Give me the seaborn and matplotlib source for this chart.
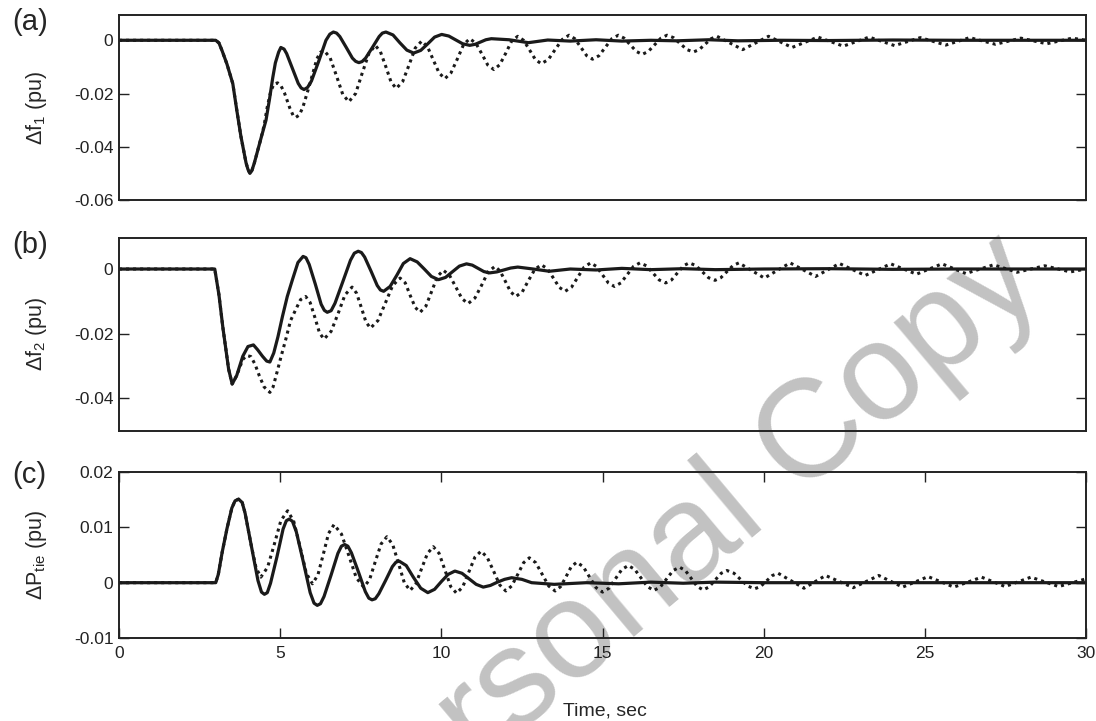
import matplotlib
matplotlib.use("Agg")
import matplotlib.pyplot as plt
import seaborn as sns
import pandas as pd

# (time s, value pu)
a_solid = [(0, 0), (3.0, 0), (3.1, -0.001), (3.2, -0.004), (3.35, -0.009), (3.53, -0.0163),
           (3.65, -0.026), (3.78, -0.036), (3.94, -0.046), (4.0, -0.0485), (4.06, -0.050),
           (4.12, -0.049), (4.2, -0.046), (4.4, -0.037), (4.56, -0.030), (4.67, -0.022),
           (4.77, -0.014), (4.85, -0.0085), (4.95, -0.0045), (5.02, -0.0027), (5.12, -0.0033),
           (5.2, -0.005), (5.38, -0.0106), (5.56, -0.0162), (5.65, -0.0179), (5.74, -0.0185),
           (5.85, -0.0177), (5.97, -0.0153), (6.2, -0.0077), (6.42, 0.0), (6.54, 0.0023),
           (6.65, 0.0031), (6.75, 0.0027), (6.85, 0.0014), (7.05, -0.0027), (7.24, -0.0067),
           (7.34, -0.0079), (7.44, -0.0084), (7.54, -0.008), (7.65, -0.0067), (7.86, -0.0027),
           (8.07, 0.0014), (8.17, 0.0027), (8.28, 0.0031), (8.5, 0.002), (8.71, -0.0009),
           (8.93, -0.0037), (9.14, -0.0048), (9.36, -0.0038), (9.58, -0.0013), (9.79, 0.0012),
           (10.01, 0.0022), (10.23, 0.0016), (10.66, -0.0013), (10.88, -0.0019), (11.05, -0.0015),
           (11.38, 0.0002), (11.55, 0.0006), (12.1, 0.0002), (12.7, -0.0009), (13.3, 0.0001),
           (14.0, -0.0003), (14.8, 0.0002), (15.6, -0.0003), (16.5, 0.0), (17.3, -0.0002),
           (18.3, 0.0002), (19.2, -0.0002), (20.5, 0.0), (22.0, -0.0001), (24.0, 0.0001),
           (26.0, 0.0), (28.0, 0.0), (30.0, 0.0)]
a_dotted = [(0, 0), (3.0, 0), (3.1, -0.001), (3.2, -0.004), (3.35, -0.009), (3.53, -0.0163),
            (3.65, -0.026), (3.78, -0.036), (3.94, -0.046), (4.0, -0.0485), (4.06, -0.050),
            (4.12, -0.049), (4.2, -0.046), (4.4, -0.037), (4.5, -0.032), (4.6, -0.025),
            (4.7, -0.0195), (4.8, -0.0165), (4.92, -0.016), (5.02, -0.017), (5.13, -0.0197),
            (5.3, -0.0255), (5.4, -0.0282), (5.48, -0.029), (5.59, -0.0281), (5.7, -0.0253),
            (5.92, -0.0164), (6.14, -0.0069), (6.25, -0.0045), (6.36, -0.0038), (6.55, -0.0066),
            (6.75, -0.0135), (6.94, -0.0203), (7.13, -0.0231), (7.34, -0.02), (7.54, -0.0125),
            (7.75, -0.005), (7.95, -0.0019), (8.11, -0.0043), (8.28, -0.01), (8.44, -0.0157),
            (8.6, -0.0181), (8.8, -0.0155), (9.0, -0.0092), (9.19, -0.0029), (9.39, -0.0003),
            (9.57, -0.0024), (9.75, -0.0074), (9.93, -0.0123), (10.11, -0.0144), (10.3, -0.0122),
            (10.5, -0.0069), (10.69, -0.0016), (10.88, 0.0006), (11.07, -0.0011), (11.26, -0.0052),
            (11.44, -0.0093), (11.63, -0.011), (11.81, -0.0092), (12.0, -0.0048), (12.18, -0.0003),
            (12.37, 0.0015), (12.55, 0.0), (12.74, -0.0037), (12.92, -0.0073), (13.1, -0.0088),
            (13.32, -0.0072), (13.53, -0.0035), (13.75, 0.0003), (13.96, 0.0019), (14.14, 0.0006),
            (14.51, -0.0058), (14.69, -0.0071), (14.89, -0.0058), (15.29, 0.0006), (15.49, 0.0019),
            (15.67, 0.0008), (16.05, -0.0042), (16.23, -0.0053), (16.42, -0.0042), (16.81, 0.0008),
            (17.0, 0.0019), (17.2, 0.001), (17.62, -0.0035), (17.82, -0.0044), (18.0, -0.0035),
            (18.37, 0.0006), (18.55, 0.0015), (19.35, -0.0035), (20.15, 0.0015), (20.88, -0.0027),
            (21.68, 0.0012), (22.47, -0.0022), (23.27, 0.0012), (24.06, -0.002), (24.86, 0.001),
            (25.65, -0.0018), (26.39, 0.001), (27.19, -0.0015), (27.98, 0.0008), (28.78, -0.0013),
            (29.57, 0.0008), (30.0, 0.0)]

b_solid = [(0, 0), (2.97, 0), (3.1, -0.008), (3.22, -0.018), (3.4, -0.031), (3.51, -0.0356),
           (3.65, -0.033), (3.84, -0.027), (4.0, -0.024), (4.17, -0.0235), (4.3, -0.025),
           (4.45, -0.027), (4.58, -0.0285), (4.68, -0.0288), (4.8, -0.026), (4.93, -0.021),
           (5.07, -0.0147), (5.22, -0.0085), (5.38, -0.0033), (5.55, 0.002), (5.71, 0.0039),
           (5.8, 0.0035), (5.9, 0.0014), (6.09, -0.0047), (6.27, -0.0109), (6.37, -0.0128),
           (6.46, -0.0134), (6.58, -0.0129), (6.7, -0.0106), (6.94, -0.004), (7.18, 0.0027),
           (7.3, 0.0049), (7.42, 0.0055), (7.52, 0.0051), (7.62, 0.0037), (7.82, -0.0007),
           (8.01, -0.0051), (8.11, -0.0065), (8.21, -0.0069), (8.41, -0.0054), (8.62, -0.0019),
           (8.82, 0.0017), (9.03, 0.0032), (9.25, 0.0022), (9.47, 0.0), (9.69, -0.0023),
           (9.91, -0.0033), (10.13, -0.0026), (10.35, -0.0008), (10.56, 0.0009), (10.78, 0.0016),
           (10.96, 0.0012), (11.32, -0.0008), (11.5, -0.0012), (11.72, -0.0009), (12.15, 0.0003),
           (12.37, 0.0006), (12.85, 0.0), (13.35, -0.0007), (14.0, 0.0), (14.8, -0.0003),
           (15.6, 0.0002), (16.5, -0.0002), (17.5, 0.0001), (18.5, -0.0002), (20.0, 0.0),
           (22.0, 0.0001), (24.0, -0.0001), (26.0, 0.0), (30.0, 0.0)]
b_dotted = [(0, 0), (2.97, 0), (3.1, -0.008), (3.22, -0.018), (3.4, -0.031), (3.51, -0.0356),
            (3.65, -0.033), (3.84, -0.028), (3.96, -0.0268), (4.09, -0.0271), (4.22, -0.0295),
            (4.35, -0.033), (4.5, -0.0365), (4.68, -0.0382), (4.78, -0.0365), (4.9, -0.032),
            (5.03, -0.027), (5.17, -0.0219), (5.32, -0.016), (5.48, -0.0126), (5.63, -0.0095),
            (5.79, -0.0085), (5.93, -0.0104), (6.08, -0.0151), (6.22, -0.0198), (6.36, -0.0217),
            (6.58, -0.0193), (6.8, -0.0137), (7.01, -0.008), (7.23, -0.0056), (7.37, -0.0075),
            (7.52, -0.012), (7.66, -0.0164), (7.8, -0.0183), (8.03, -0.016), (8.26, -0.0106),
            (8.49, -0.0051), (8.72, -0.0028), (8.88, -0.0043), (9.03, -0.0081), (9.19, -0.0119),
            (9.34, -0.0134), (9.52, -0.0115), (9.7, -0.0069), (9.88, -0.0023), (10.06, -0.0004),
            (10.25, -0.0019), (10.45, -0.0056), (10.64, -0.0092), (10.83, -0.0107), (11.04, -0.009),
            (11.25, -0.005), (11.45, -0.0009), (11.66, 0.0008), (11.82, -0.0006), (11.99, -0.0039),
            (12.15, -0.0071), (12.31, -0.0085), (12.51, -0.0071), (12.7, -0.0036), (12.9, -0.0001),
            (13.1, 0.0013), (13.29, 0.0001), (13.66, -0.0057), (13.84, -0.0069), (14.04, -0.0056),
            (14.43, 0.0006), (14.63, 0.0019), (14.81, 0.0008), (15.18, -0.0043), (15.37, -0.0054),
            (15.57, -0.0043), (15.96, 0.0008), (16.16, 0.0019), (16.36, 0.001), (16.76, -0.0034),
            (16.96, -0.0043), (17.14, -0.0034), (17.51, 0.001), (17.69, 0.0019), (17.89, 0.0011),
            (18.29, -0.0027), (18.49, -0.0035), (18.67, -0.0027), (19.05, 0.0011), (19.23, 0.0019),
            (20.02, -0.0028), (20.82, 0.0019), (21.61, -0.0023), (22.35, 0.0017), (23.15, -0.002),
            (23.94, 0.0016), (24.74, -0.0016), (25.53, 0.0016), (26.27, -0.0014), (27.13, 0.0013),
            (27.86, -0.001), (28.72, 0.001), (29.51, -0.0009), (30.0, 0.0)]

c_solid = [(0, 0), (3.0, 0), (3.08, 0.0015), (3.2, 0.0055), (3.35, 0.0098), (3.5, 0.0135),
           (3.6, 0.0148), (3.71, 0.0151), (3.82, 0.0145), (3.91, 0.0126), (4.11, 0.0065),
           (4.31, 0.0004), (4.42, -0.0017), (4.51, -0.0021), (4.6, -0.0018), (4.7, -0.0001),
           (4.9, 0.0047), (5.09, 0.0097), (5.19, 0.0112), (5.28, 0.0115), (5.38, 0.0111),
           (5.5, 0.0092), (5.72, 0.0037), (5.93, -0.0018), (6.05, -0.0037), (6.15, -0.0041),
           (6.25, -0.0038), (6.36, -0.0025), (6.58, 0.0014), (6.79, 0.0053), (6.9, 0.0066),
           (7.0, 0.0069), (7.1, 0.0066), (7.21, 0.0054), (7.43, 0.0019), (7.64, -0.0016),
           (7.75, -0.0028), (7.85, -0.0031), (7.95, -0.0029), (8.06, -0.002), (8.27, 0.0004),
           (8.48, 0.0029), (8.59, 0.0037), (8.69, 0.0039), (8.91, 0.0031), (9.13, 0.001),
           (9.36, -0.001), (9.58, -0.0018), (9.79, -0.0012), (10.0, 0.0002), (10.21, 0.0015),
           (10.42, 0.0021), (10.64, 0.0017), (10.86, 0.0007), (11.08, -0.0003), (11.3, -0.0008),
           (11.52, -0.0005), (11.74, 0.0001), (11.96, 0.0006), (12.18, 0.0009), (12.5, 0.0006),
           (12.8, 0.0), (13.5, -0.0003), (14.5, 0.0), (15.5, -0.0002), (16.5, 0.0001),
           (17.5, -0.0001), (18.5, 0.0001), (20.0, 0.0), (30.0, 0.0)]
c_dotted = [(0, 0), (3.0, 0), (3.08, 0.0015), (3.2, 0.0055), (3.35, 0.0098), (3.5, 0.0135),
            (3.6, 0.0148), (3.71, 0.0151), (3.82, 0.0145), (3.91, 0.0126), (4.11, 0.0065),
            (4.25, 0.0027), (4.4, 0.001), (4.61, 0.0028), (4.82, 0.007), (5.02, 0.0112),
            (5.23, 0.013), (5.42, 0.0111), (5.62, 0.0064), (5.81, 0.0017), (6.0, -0.0002),
            (6.17, 0.0014), (6.34, 0.0052), (6.5, 0.0089), (6.67, 0.0105), (6.9, 0.0088),
            (7.13, 0.0049), (7.36, 0.0009), (7.59, -0.0008), (7.77, 0.0005), (7.95, 0.0038),
            (8.13, 0.007), (8.31, 0.0083), (8.49, 0.0069), (8.67, 0.0035), (8.85, 0.0),
            (9.03, -0.0014), (9.21, -0.0002), (9.39, 0.0026), (9.57, 0.0053), (9.75, 0.0065),
            (9.93, 0.0053), (10.11, 0.0023), (10.29, -0.0007), (10.47, -0.0019), (10.66, -0.0008),
            (10.85, 0.0019), (11.04, 0.0046), (11.23, 0.0057), (11.42, 0.0046), (11.62, 0.0021),
            (11.81, -0.0004), (12.0, -0.0015), (12.18, -0.0006), (12.37, 0.0015), (12.55, 0.0036),
            (12.73, 0.0045), (12.93, 0.0036), (13.13, 0.0015), (13.33, -0.0006), (13.53, -0.0015),
            (13.7, -0.0007), (13.87, 0.0011), (14.03, 0.0029), (14.2, 0.0037), (14.4, 0.0029),
            (14.6, 0.001), (14.8, -0.0009), (15.0, -0.0017), (15.2, -0.001), (15.4, 0.0007),
            (15.6, 0.0024), (15.8, 0.0031), (16.0, 0.0024), (16.39, -0.0007), (16.59, -0.0014),
            (16.79, -0.0008), (17.19, 0.0022), (17.39, 0.0028), (17.57, 0.0022), (17.94, -0.0007),
            (18.12, -0.0013), (18.3, -0.0008), (18.68, 0.0017), (18.86, 0.0022), (19.08, 0.0017),
            (19.5, -0.0006), (19.72, -0.0011), (19.9, -0.0007), (20.27, 0.0013), (20.45, 0.0017),
            (21.25, -0.001), (21.92, 0.0013), (22.78, -0.0009), (23.57, 0.0013), (24.31, -0.0008),
            (25.1, 0.0011), (25.9, -0.0008), (26.76, 0.001), (27.49, -0.0007), (28.29, 0.001),
            (29.15, -0.0007), (30.0, 0.0007)]

panel_tags = ["(a)", "(b)", "(c)"]
ylabels = ["Δf$_1$ (pu)", "Δf$_2$ (pu)", "ΔP$_{tie}$ (pu)"]
yticks_a = [-0.06, -0.04, -0.02, 0]
yticks_b = [-0.04, -0.02, 0]
yticks_c = [-0.01, 0, 0.01, 0.02]
xticks = [0, 5, 10, 15, 20, 25, 30]

sns.set_theme(style="white")
plt.rcParams['font.family'] = ['Liberation Sans', 'DejaVu Sans']
plt.rcParams['mathtext.default'] = 'regular'
plt.rcParams['axes.unicode_minus'] = False

fig = plt.figure(figsize=(10.96, 7.21), dpi=100)
fig.patch.set_facecolor('white')

# axes boxes in figure fractions (left edge x=119px, right edge x=1086px)
boxes = [[0.1086, 0.7226, 0.8823, 0.2566],
         [0.1086, 0.4029, 0.8823, 0.2670],
         [0.1086, 0.1151, 0.8823, 0.2302]]
ylims = [(-0.06, 0.0095), (-0.05, 0.0096), (-0.01, 0.02)]
yticks_all = [yticks_a, yticks_b, yticks_c]
data = [(a_solid, a_dotted), (b_solid, b_dotted), (c_solid, c_dotted)]
tag_y = [22, 245, 475]


def fmt(v):
    if v == 0:
        return "0"
    return f"{v:.2f}"


for i, (box, (solid, dotted)) in enumerate(zip(boxes, data)):
    ax = fig.add_axes(box)
    ax.patch.set_alpha(0)
    df_s = pd.DataFrame(solid, columns=['t', 'v'])
    df_d = pd.DataFrame(dotted, columns=['t', 'v'])
    sns.lineplot(data=df_d, x='t', y='v', ax=ax, color='k', linewidth=2.2,
                 linestyle=(0, (1, 1.3)), estimator=None)
    sns.lineplot(data=df_s, x='t', y='v', ax=ax, color='k', linewidth=2.3,
                 estimator=None)
    ax.set_xlim(0, 30)
    ax.set_ylim(*ylims[i])
    ax.set_yticks(yticks_all[i])
    ax.set_yticklabels([fmt(v) for v in yticks_all[i]])
    ax.set_xlabel('')
    ax.set_ylabel(ylabels[i], fontsize=15.5)
    ax.yaxis.set_label_coords(-0.072, 0.5)
    for sp in ax.spines.values():
        sp.set_linewidth(1.4)
        sp.set_color('#222222')
    ax.tick_params(axis='y', direction='in', length=7, width=1, left=True, right=True,
                   labelsize=12.5, pad=4, colors='#222222')
    if i < 2:
        ax.set_xticks([])
    else:
        ax.set_xticks(xticks)
        ax.set_xticklabels([str(x) for x in xticks])
        ax.tick_params(axis='x', direction='in', length=7, width=1, bottom=True, top=True,
                       labelsize=12.5, pad=6, colors='#222222')
    fig.text(12 / 1096, 1 - tag_y[i] / 721, panel_tags[i], ha='left', va='center',
             fontsize=21)

fig.text(0.552, 1 - 711 / 721, "Time, sec", ha='center', va='center', fontsize=14)

# light watermark behind the plots
fig.text(0.616, 0.230, "Personal Copy", rotation=40, fontsize=100, color='#c2c2c2',
         ha='center', va='center', zorder=-5)

fig.savefig("out.png", dpi=100, facecolor='white')
